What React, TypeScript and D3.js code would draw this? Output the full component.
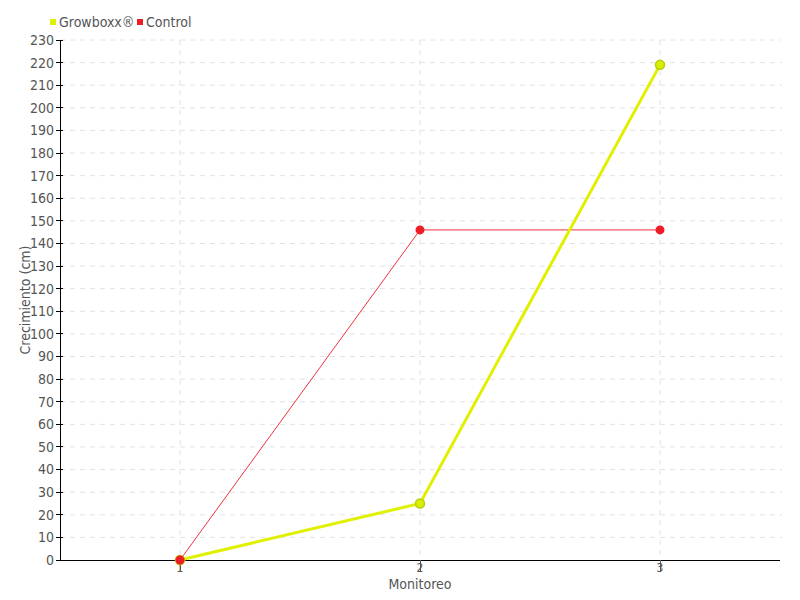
import React from "react";
import * as d3 from "d3";

const monitoreos = [1, 2, 3];
const growboxx = [0, 25, 219];
const control = [0, 146, 146];
const yTicks = d3.range(0, 231, 10);

const width = 800;
const height = 600;
const margin = { top: 40, right: 20, bottom: 40, left: 60 };
const font = "'DejaVu Sans Condensed', 'Liberation Sans Narrow', sans-serif";

export default function App() {
  const x = d3.scaleLinear().domain([0.5, 3.5]).range([margin.left, width - margin.right]);
  const y = d3.scaleLinear().domain([0, 230]).range([height - margin.bottom, margin.top]);
  const ln = d3
    .line<number>()
    .x((_, i) => x(monitoreos[i]))
    .y((d) => y(d));

  return (
    <svg
      width={width}
      height={height}
      style={{ position: "absolute", left: 0, top: 0, fontFamily: font }}
    >
      <rect width={width} height={height} fill="#fff" />
      {yTicks.slice(1).map((t) => (
        <line key={"g" + t} x1={x(0.5)} x2={x(3.5) + 2} y1={y(t)} y2={y(t)} stroke="#e2e2e2" strokeDasharray="5,5" />
      ))}
      {monitoreos.map((m) => (
        <line key={"v" + m} x1={x(m)} x2={x(m)} y1={y(230)} y2={y(0)} stroke="#e2e2e2" strokeDasharray="5,5" />
      ))}
      {/* axes */}
      <g shapeRendering="crispEdges">
        <line x1={x(0.5)} x2={x(0.5)} y1={y(230)} y2={y(0)} stroke="#000" />
        <line x1={x(0.5)} x2={x(3.5)} y1={y(0)} y2={y(0)} stroke="#000" />
        {yTicks.map((t) => (
          <line key={"tl" + t} x1={x(0.5) - 4} x2={x(0.5) + 3} y1={y(t)} y2={y(t)} stroke="#000" />
        ))}
        {monitoreos.map((m) => (
          <line key={"xl" + m} x1={x(m)} x2={x(m)} y1={y(0)} y2={y(0) + 12} stroke="#555" />
        ))}
      </g>
      {yTicks.map((t) => (
        <text key={"t" + t} x={x(0.5) - 6} y={y(t)} dy="0.35em" textAnchor="end" fontSize={14} fill="#555">
          {t}
        </text>
      ))}
      {monitoreos.map((m) => (
        <text key={"xt" + m} x={x(m)} y={y(0) + 12} textAnchor="middle" fontSize={12} fill="#555">
          {m}
        </text>
      ))}
      <text x={(x(0.5) + x(3.5)) / 2} y={589} textAnchor="middle" fontSize={14} fill="#555">
        Monitoreo
      </text>
      <text
        transform={`translate(30,${(y(0) + y(230)) / 2}) rotate(-90)`}
        textAnchor="middle"
        fontSize={14}
        fill="#555"
      >
        Crecimiento (cm)
      </text>
      {/* series */}
      <path d={ln(control) || ""} fill="none" stroke="#f0303a" strokeWidth={1} />
      <path d={ln(growboxx) || ""} fill="none" stroke="#e0f000" strokeWidth={3} />
      {growboxx.map((v, i) => (
        <circle key={"gb" + i} cx={x(monitoreos[i])} cy={y(v)} r={4.5} fill="#d8f000" stroke="#b8cc10" strokeWidth={1.5} />
      ))}
      {control.map((v, i) => (
        <circle key={"c" + i} cx={x(monitoreos[i])} cy={y(v)} r={4.5} fill="#ee1c25" />
      ))}
      {/* legend */}
      <rect x={50} y={19} width={6} height={6} fill="#e0f000" />
      <text x={59} y={22} dy="0.35em" fontSize={14} fill="#555">
        Growboxx®
      </text>
      <rect x={137} y={19} width={6} height={6} fill="#ee1c25" />
      <text x={146} y={22} dy="0.35em" fontSize={14} fill="#555">
        Control
      </text>
    </svg>
  );
}
